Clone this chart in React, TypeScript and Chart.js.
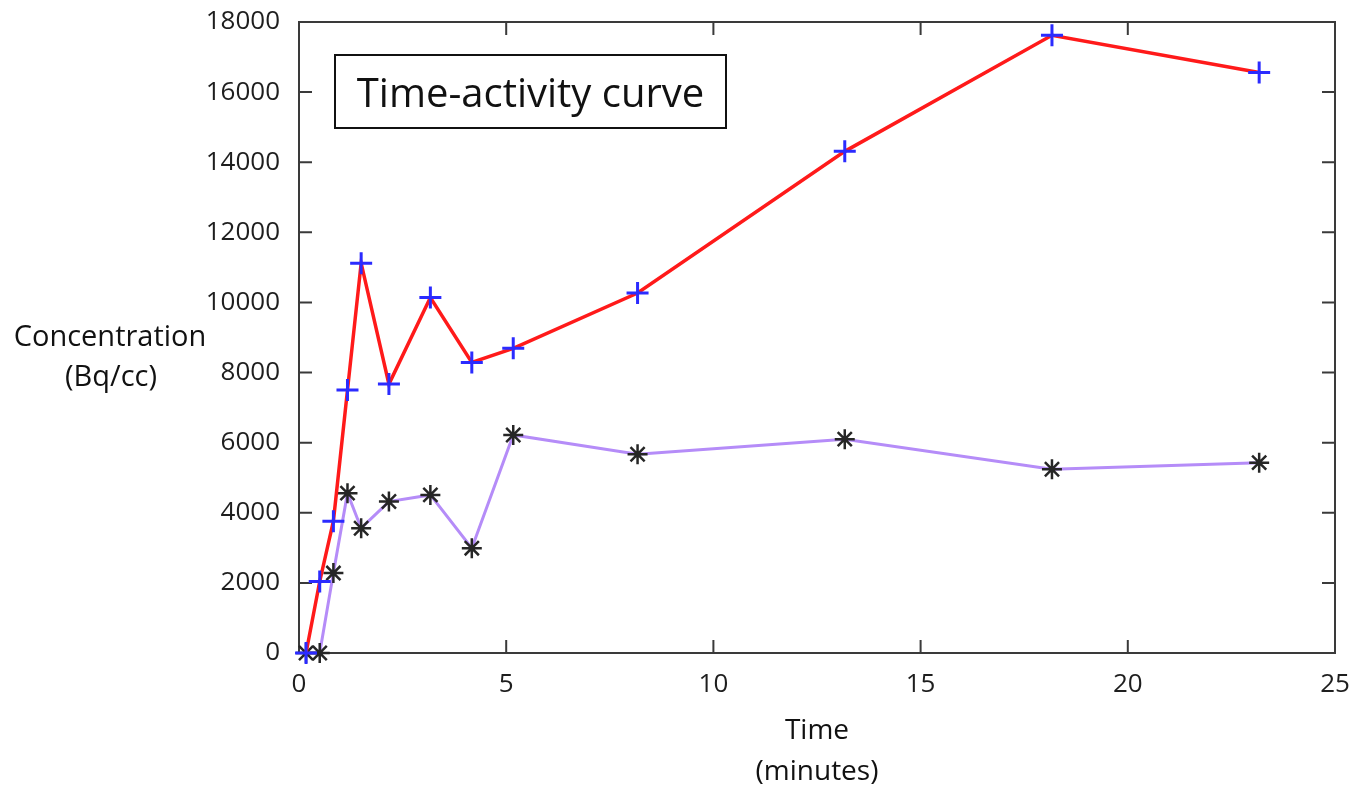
import React, { useEffect, useRef } from "react";
import { Chart, registerables } from "chart.js";

Chart.register(...registerables);

const times = [0.17, 0.5, 0.83, 1.17, 1.5, 2.17, 3.17, 4.17, 5.17, 8.17, 13.17, 18.17, 23.17];
const seriesRed = [0, 2040, 3760, 7500, 11120, 7670, 10140, 8290, 8690, 10270, 14310, 17620, 16560];
const seriesPurple = [0, 0, 2280, 4560, 3560, 4320, 4510, 2990, 6220, 5670, 6100, 5240, 5430];
const boxTitle = "Time-activity curve";
const yTitleLines = ["Concentration", "(Bq/cc)"];
const xTitleLines = ["Time", "(minutes)"];

const W = 1371;
const H = 796;
const FONT = "'Open Sans', 'DejaVu Sans', sans-serif";
const AXIS_COLOR = "#3a3a3a";

const framePlugin = {
  id: "frame",
  beforeDatasetsDraw(chart: any) {
    const { ctx, chartArea } = chart;
    const { left, right, top, bottom } = chartArea;
    const xs = chart.scales.x;
    const ys = chart.scales.y;
    const tl = 13;
    ctx.save();
    ctx.strokeStyle = AXIS_COLOR;
    ctx.lineWidth = 2;
    ctx.strokeRect(left, top, right - left, bottom - top);
    ctx.beginPath();
    ys.ticks.forEach((t: any) => {
      const y = ys.getPixelForValue(t.value);
      if (Math.abs(y - top) < 1 || Math.abs(y - bottom) < 1) return;
      ctx.moveTo(left, y);
      ctx.lineTo(left + tl, y);
      ctx.moveTo(right, y);
      ctx.lineTo(right - tl, y);
    });
    xs.ticks.forEach((t: any) => {
      const x = xs.getPixelForValue(t.value);
      if (Math.abs(x - left) < 1 || Math.abs(x - right) < 1) return;
      ctx.moveTo(x, bottom);
      ctx.lineTo(x, bottom - tl);
      ctx.moveTo(x, top);
      ctx.lineTo(x, top + tl);
    });
    ctx.stroke();
    ctx.restore();
  },
  afterDraw(chart: any) {
    const { ctx, chartArea } = chart;
    ctx.save();
    const bx = chartArea.left + 36;
    const by = chartArea.top + 33;
    const bw = 391;
    const bh = 73;
    ctx.strokeStyle = "#111";
    ctx.lineWidth = 2;
    ctx.strokeRect(bx, by, bw, bh);
    ctx.fillStyle = "#111";
    ctx.font = `40px ${FONT}`;
    ctx.textAlign = "center";
    ctx.textBaseline = "alphabetic";
    ctx.fillText(boxTitle, bx + bw / 2, by + 52);
    ctx.font = `29px ${FONT}`;
    ctx.fillText(yTitleLines[0], 110, 346);
    ctx.fillText(yTitleLines[1], 111, 386);
    ctx.restore();
  },
};

export default function App() {
  const ref = useRef<HTMLCanvasElement | null>(null);
  useEffect(() => {
    const canvas = ref.current;
    if (!canvas) return;
    const toPts = (ys: number[]) => times.map((t, i) => ({ x: t, y: ys[i] }));
    const chart = new Chart(canvas, {
      type: "line",
      data: {
        datasets: [
          {
            label: "Red",
            data: toPts(seriesRed),
            borderColor: "#ff1a1a",
            borderWidth: 3.5,
            pointStyle: "cross",
            pointRadius: 11,
            pointBorderColor: "#2b2bff",
            pointBorderWidth: 3,
            pointBackgroundColor: "#2b2bff",
            tension: 0,
            clip: false,
          },
          {
            label: "Purple",
            data: toPts(seriesPurple),
            borderColor: "#b58cf8",
            borderWidth: 3,
            pointStyle: "star",
            pointRadius: 10,
            pointBorderColor: "#262626",
            pointBorderWidth: 2.5,
            pointBackgroundColor: "#262626",
            tension: 0,
            clip: false,
          },
        ],
      },
      options: {
        responsive: false,
        animation: false,
        events: [],
        layout: { padding: { top: 22, right: 36, left: 0, bottom: 0 } },
        plugins: {
          legend: { display: false },
          title: { display: false },
          tooltip: { enabled: false },
        },
        scales: {
          x: {
            type: "linear",
            min: 0,
            max: 25,
            grid: { display: false, drawTicks: false },
            border: { display: false },
            ticks: {
              stepSize: 5,
              padding: 16,
              color: "#1e1e1e",
              font: { family: FONT, size: 26 },
              maxRotation: 0,
              callback: (v: any) => String(v),
            },
            title: {
              display: true,
              text: xTitleLines,
              color: "#111",
              font: { family: FONT, size: 28, lineHeight: 1.46 },
              padding: { top: 0, bottom: 4 },
            },
            afterFit(scale: any) {
              scale.height = 143;
              scale.paddingLeft = 0;
              scale.paddingRight = 0;
            },
          },
          y: {
            type: "linear",
            min: 0,
            max: 18000,
            grid: { display: false, drawTicks: false },
            border: { display: false },
            ticks: {
              stepSize: 2000,
              padding: 19,
              color: "#1e1e1e",
              font: { family: FONT, size: 26 },
              callback: (v: any) => String(v),
            },
            afterFit(scale: any) {
              scale.width = 299;
              scale.paddingTop = 0;
              scale.paddingBottom = 0;
            },
          },
        },
      },
      plugins: [framePlugin],
    } as any);
    return () => chart.destroy();
  }, []);
  return (
    <div style={{ position: "fixed", left: 0, top: 0, width: W, height: H, background: "#fff" }}>
      <canvas ref={ref} width={W} height={H} style={{ width: W, height: H, display: "block" }} />
    </div>
  );
}
